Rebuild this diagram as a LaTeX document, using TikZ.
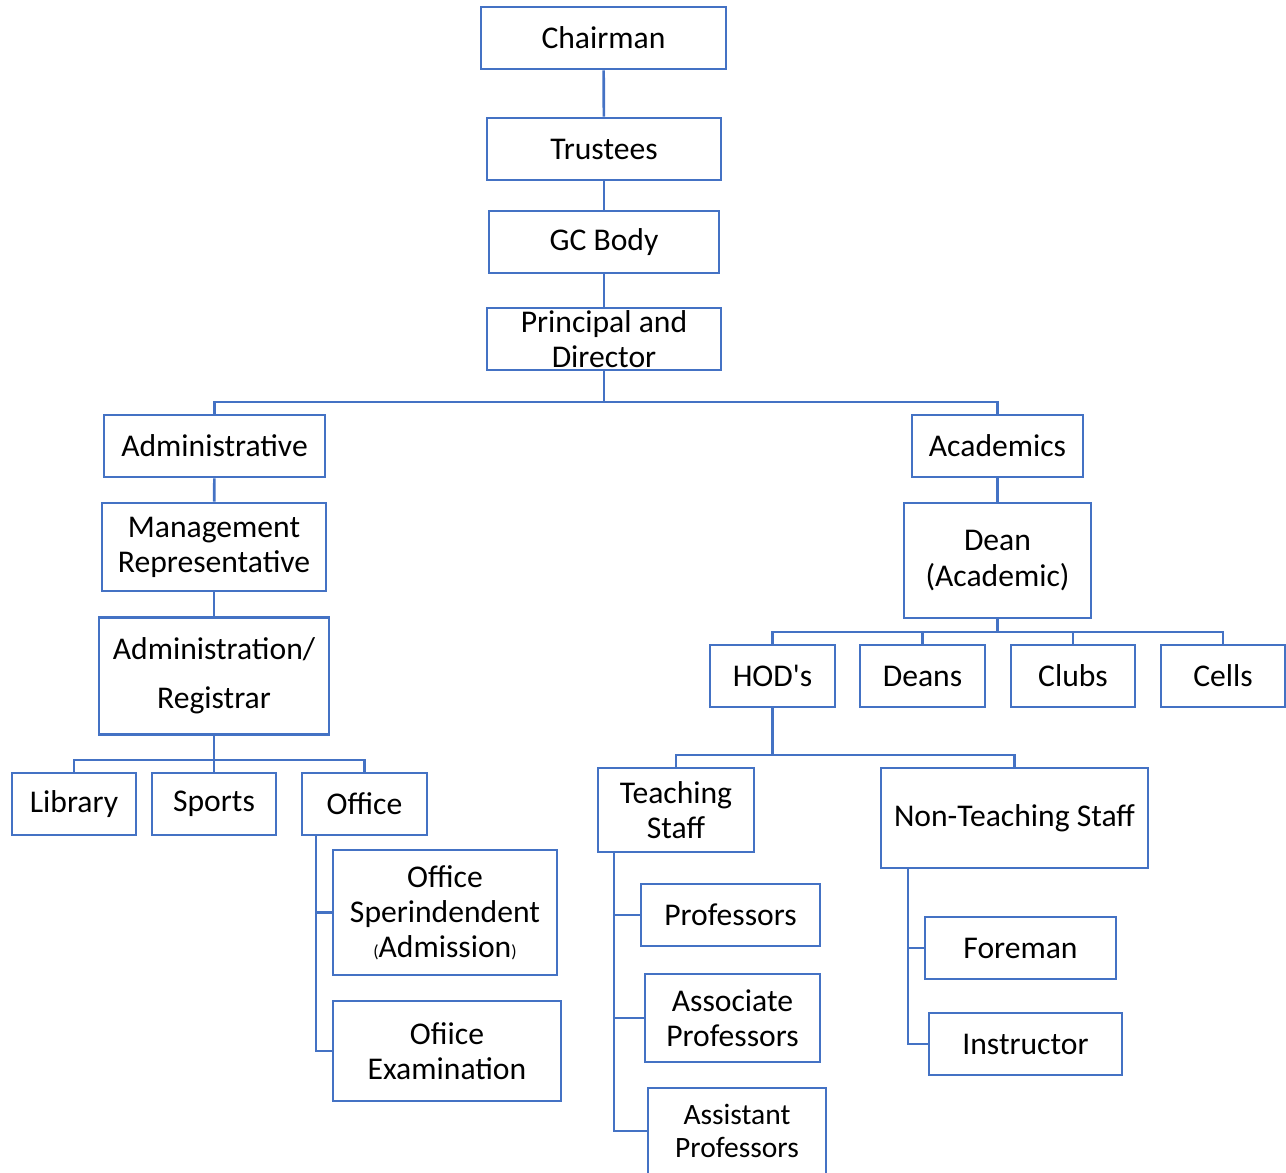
\documentclass[tikz,border=0pt]{standalone}
\usepackage{fontspec}
\setmainfont{Carlito}
\usepackage{xcolor}
\usetikzlibrary{positioning, calc}
\definecolor{orgblue}{HTML}{4472C4}

\tikzset{
    box/.style={draw=orgblue, line width=1.5pt, fill=white, inner sep=0pt, align=center,
        font=\fontsize{18}{20}\selectfont},
    sz/.style 2 args={minimum width=#1*0.02cm, minimum height=#2*0.02cm},
    link/.style={draw=orgblue, line width=1.5pt}
}

\begin{document}
\begin{tikzpicture}[x=0.02cm, y=-0.02cm]
    \useasboundingbox (0,0) rectangle (1286,1173);

    % Top of the chart
    \node[box, sz={245}{62}] (chair) at (603.5,38) {Chairman};
    \node[box, sz={234}{62}] (trust) at (604,149) {Trustees};
    \node[box, sz={230}{62}] (gc) at (604,242) {GC Body};
    \node[box, sz={234}{62}] (prin) at (604,339) {Principal and\\Director};

    % Administrative side
    \node[box, sz={221}{62}] (admin) at (214.5,446) {Administrative};
    \node[box, sz={224}{88}] (mgmt) at (214,547) {Management\\Representative};
    \node[box, sz={230}{117}] (reg) at (214,676) {Administration/\\[8pt]Registrar};
    \node[box, sz={124}{62}] (lib) at (74,804) {Library};
    \node[box, sz={124}{62}] (sports) at (214,804) {Sports};
    \node[box, sz={125}{62}] (office) at (364.5,804) {Office};
    \node[box, sz={224}{125}] (sup) at (445,912.5)
        {Office\\Sperindendent\\{\fontsize{10}{12}\selectfont(}Admission{\fontsize{10}{12}\selectfont)}};
    \node[box, sz={228}{100}] (exam) at (447,1051) {Ofiice\\Examination};

    % Academic side
    \node[box, sz={171}{62}] (acad) at (997.5,446) {Academics};
    \node[box, sz={187}{115}] (dean) at (997.5,560.5) {Dean\\(Academic)};
    \node[box, sz={125}{62}] (hod) at (772.5,676) {HOD\textquotesingle s};
    \node[box, sz={125}{62}] (deans) at (922.5,676) {Deans};
    \node[box, sz={124}{62}] (clubs) at (1073,676) {Clubs};
    \node[box, sz={124}{62}] (cells) at (1223,676) {Cells};
    \node[box, sz={156}{84}] (teach) at (676,810) {Teaching\\Staff};
    \node[box, sz={267}{100}] (nonteach) at (1014.5,818) {Non-Teaching Staff};
    \node[box, sz={179}{62}] (prof) at (730.5,915) {Professors};
    \node[box, sz={175}{88}] (assoc) at (732.5,1018) {Associate\\Professors};
    \node[box, sz={178}{86}, font=\fontsize{16.8}{19}\selectfont] (assist) at (737,1131) {Assistant\\Professors};
    \node[box, sz={191}{62}] (fore) at (1020.5,948) {Foreman};
    \node[box, sz={193}{62}] (instr) at (1025.5,1044) {Instructor};

    % Bus points
    \coordinate (topbus) at (604,402);
    \coordinate (regbus) at (214,760);
    \coordinate (deanbus) at (997.5,632);
    \coordinate (hodbus) at (772.5,755);
    \coordinate (offtap) at (316,835);
    \coordinate (teachtap) at (614,852);
    \coordinate (nontap) at (908,868);

    % Connectors
    \draw[link] (chair) -- (trust);
    \draw[link] (trust) -- (gc);
    \draw[link] (gc) -- (prin);
    \draw[link] (prin.south) -- (topbus);
    \draw[link] (admin.north) |- (topbus) -| (acad.north);
    \draw[link] (admin) -- (mgmt);
    \draw[link] (mgmt) -- (reg);
    \draw[link] (reg.south) -- (regbus);
    \draw[link] (lib.north) |- (regbus) -| (office.north);
    \draw[link] (sports.north) -- (regbus);
    \draw[link] (offtap) |- (sup.west);
    \draw[link] (offtap) |- (exam.west);
    \draw[link] (acad) -- (dean);
    \draw[link] (dean.south) -- (deanbus);
    \draw[link] (hod.north) |- (deanbus) -| (cells.north);
    \draw[link] (deans.north) -- (deans.north |- deanbus);
    \draw[link] (clubs.north) -- (clubs.north |- deanbus);
    \draw[link] (hod.south) -- (hodbus);
    \draw[link] (teach.north) |- (hodbus) -| (nonteach.north);
    \draw[link] (teachtap) |- (prof.west);
    \draw[link] (teachtap) |- (assoc.west);
    \draw[link] (teachtap) |- (assist.west);
    \draw[link] (nontap) |- (fore.west);
    \draw[link] (nontap) |- (instr.west);
\end{tikzpicture}
\end{document}
